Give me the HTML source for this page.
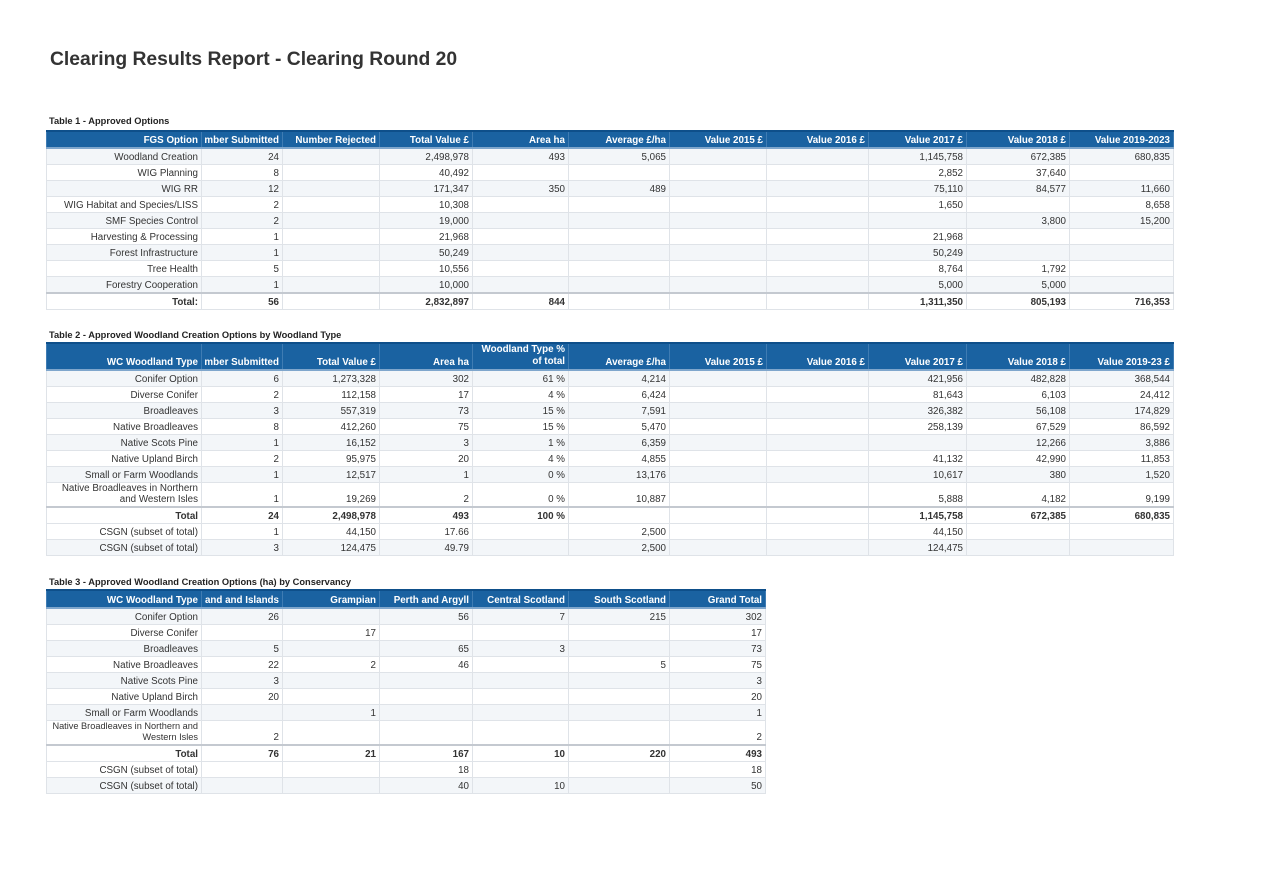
<!DOCTYPE html>
<html><head><meta charset="utf-8"><style>
body{margin:0;width:1262px;height:880px;background:#fff;font-family:"Liberation Sans",Arial,sans-serif;position:relative;overflow:hidden}
h1{position:absolute;left:50px;top:49px;margin:0;font-size:19.3px;font-weight:bold;color:#333}
.cap{position:absolute;left:49px;font-size:9.3px;font-weight:bold;color:#222}
table{position:absolute;left:46px;border-collapse:collapse;table-layout:fixed;font-size:9.8px;color:#333}
td,th{border:1px solid #dfe3e8;padding:0 3px;text-align:right;white-space:nowrap;overflow:hidden;height:14px;line-height:11px;vertical-align:bottom;padding-bottom:1px}
th{background:#1a62a1;color:#fff;font-weight:bold;border-color:#3f7cb3;border-top:2px solid #0e4f8a;border-bottom:2px solid #7fa6cc}
th div{display:flex;justify-content:flex-end;overflow:hidden;white-space:nowrap}
tr:nth-child(even) td{background:#f3f6f9}
tr.tot td{font-weight:bold;border-top:2px solid #c4c9d0;background:#fff!important}
td.w{white-space:nowrap}
</style></head><body>
<h1>Clearing Results Report - Clearing Round 20</h1>

<div class="cap" style="top:116px">Table 1 - Approved Options</div>
<table style="top:130px;width:1127px">
<colgroup><col style="width:155px"><col style="width:81px"><col style="width:97px"><col style="width:93px"><col style="width:96px"><col style="width:101px"><col style="width:97px"><col style="width:102px"><col style="width:98px"><col style="width:103px"><col style="width:104px"></colgroup>
<tr><th style="height:13px"><div>FGS Option</div></th><th><div>Number Submitted</div></th><th><div>Number Rejected</div></th><th><div>Total Value £</div></th><th><div>Area ha</div></th><th><div>Average £/ha</div></th><th><div>Value 2015 £</div></th><th><div>Value 2016 £</div></th><th><div>Value 2017 £</div></th><th><div>Value 2018 £</div></th><th><div>Value 2019-2023</div></th></tr>
<tr><td>Woodland Creation</td><td>24</td><td></td><td>2,498,978</td><td>493</td><td>5,065</td><td></td><td></td><td>1,145,758</td><td>672,385</td><td>680,835</td></tr>
<tr><td>WIG Planning</td><td>8</td><td></td><td>40,492</td><td></td><td></td><td></td><td></td><td>2,852</td><td>37,640</td><td></td></tr>
<tr><td>WIG RR</td><td>12</td><td></td><td>171,347</td><td>350</td><td>489</td><td></td><td></td><td>75,110</td><td>84,577</td><td>11,660</td></tr>
<tr><td>WIG Habitat and Species/LISS</td><td>2</td><td></td><td>10,308</td><td></td><td></td><td></td><td></td><td>1,650</td><td></td><td>8,658</td></tr>
<tr><td>SMF Species Control</td><td>2</td><td></td><td>19,000</td><td></td><td></td><td></td><td></td><td></td><td>3,800</td><td>15,200</td></tr>
<tr><td>Harvesting &amp; Processing</td><td>1</td><td></td><td>21,968</td><td></td><td></td><td></td><td></td><td>21,968</td><td></td><td></td></tr>
<tr><td>Forest Infrastructure</td><td>1</td><td></td><td>50,249</td><td></td><td></td><td></td><td></td><td>50,249</td><td></td><td></td></tr>
<tr><td>Tree Health</td><td>5</td><td></td><td>10,556</td><td></td><td></td><td></td><td></td><td>8,764</td><td>1,792</td><td></td></tr>
<tr><td>Forestry Cooperation</td><td>1</td><td></td><td>10,000</td><td></td><td></td><td></td><td></td><td>5,000</td><td>5,000</td><td></td></tr>
<tr class="tot"><td>Total:</td><td>56</td><td></td><td>2,832,897</td><td>844</td><td></td><td></td><td></td><td>1,311,350</td><td>805,193</td><td>716,353</td></tr>
</table>

<div class="cap" style="top:330px">Table 2 - Approved Woodland Creation Options by Woodland Type</div>
<table style="top:342px;width:1127px">
<colgroup><col style="width:155px"><col style="width:81px"><col style="width:97px"><col style="width:93px"><col style="width:96px"><col style="width:101px"><col style="width:97px"><col style="width:102px"><col style="width:98px"><col style="width:103px"><col style="width:104px"></colgroup>
<tr><th style="height:24px"><div>WC Woodland Type</div></th><th><div>Number Submitted</div></th><th><div>Total Value £</div></th><th><div>Area ha</div></th><th style="white-space:normal;line-height:12px">Woodland Type %<br>of total</th><th><div>Average £/ha</div></th><th><div>Value 2015 £</div></th><th><div>Value 2016 £</div></th><th><div>Value 2017 £</div></th><th><div>Value 2018 £</div></th><th><div>Value 2019-23 £</div></th></tr>
<tr><td>Conifer Option</td><td>6</td><td>1,273,328</td><td>302</td><td>61 %</td><td>4,214</td><td></td><td></td><td>421,956</td><td>482,828</td><td>368,544</td></tr>
<tr><td>Diverse Conifer</td><td>2</td><td>112,158</td><td>17</td><td>4 %</td><td>6,424</td><td></td><td></td><td>81,643</td><td>6,103</td><td>24,412</td></tr>
<tr><td>Broadleaves</td><td>3</td><td>557,319</td><td>73</td><td>15 %</td><td>7,591</td><td></td><td></td><td>326,382</td><td>56,108</td><td>174,829</td></tr>
<tr><td>Native Broadleaves</td><td>8</td><td>412,260</td><td>75</td><td>15 %</td><td>5,470</td><td></td><td></td><td>258,139</td><td>67,529</td><td>86,592</td></tr>
<tr><td>Native Scots Pine</td><td>1</td><td>16,152</td><td>3</td><td>1 %</td><td>6,359</td><td></td><td></td><td></td><td>12,266</td><td>3,886</td></tr>
<tr><td>Native Upland Birch</td><td>2</td><td>95,975</td><td>20</td><td>4 %</td><td>4,855</td><td></td><td></td><td>41,132</td><td>42,990</td><td>11,853</td></tr>
<tr><td>Small or Farm Woodlands</td><td>1</td><td>12,517</td><td>1</td><td>0 %</td><td>13,176</td><td></td><td></td><td>10,617</td><td>380</td><td>1,520</td></tr>
<tr><td class="w" style="height:22px">Native Broadleaves in Northern<br>and Western Isles</td><td>1</td><td>19,269</td><td>2</td><td>0 %</td><td>10,887</td><td></td><td></td><td>5,888</td><td>4,182</td><td>9,199</td></tr>
<tr class="tot"><td>Total</td><td>24</td><td>2,498,978</td><td>493</td><td>100 %</td><td></td><td></td><td></td><td>1,145,758</td><td>672,385</td><td>680,835</td></tr>
<tr><td>CSGN (subset of total)</td><td>1</td><td>44,150</td><td>17.66</td><td></td><td>2,500</td><td></td><td></td><td>44,150</td><td></td><td></td></tr>
<tr><td>CSGN (subset of total)</td><td>3</td><td>124,475</td><td>49.79</td><td></td><td>2,500</td><td></td><td></td><td>124,475</td><td></td><td></td></tr>
</table>

<div class="cap" style="top:577px">Table 3 - Approved Woodland Creation Options (ha) by Conservancy</div>
<table style="top:589px;width:719px">
<colgroup><col style="width:155px"><col style="width:81px"><col style="width:97px"><col style="width:93px"><col style="width:96px"><col style="width:101px"><col style="width:96px"></colgroup>
<tr><th style="height:15px"><div>WC Woodland Type</div></th><th><div>Highland and Islands</div></th><th><div>Grampian</div></th><th><div>Perth and Argyll</div></th><th><div>Central Scotland</div></th><th><div>South Scotland</div></th><th><div>Grand Total</div></th></tr>
<tr><td>Conifer Option</td><td>26</td><td></td><td>56</td><td>7</td><td>215</td><td>302</td></tr>
<tr><td>Diverse Conifer</td><td></td><td>17</td><td></td><td></td><td></td><td>17</td></tr>
<tr><td>Broadleaves</td><td>5</td><td></td><td>65</td><td>3</td><td></td><td>73</td></tr>
<tr><td>Native Broadleaves</td><td>22</td><td>2</td><td>46</td><td></td><td>5</td><td>75</td></tr>
<tr><td>Native Scots Pine</td><td>3</td><td></td><td></td><td></td><td></td><td>3</td></tr>
<tr><td>Native Upland Birch</td><td>20</td><td></td><td></td><td></td><td></td><td>20</td></tr>
<tr><td>Small or Farm Woodlands</td><td></td><td>1</td><td></td><td></td><td></td><td>1</td></tr>
<tr><td class="w" style="height:22px;font-size:9.2px">Native Broadleaves in Northern and<br>Western Isles</td><td>2</td><td></td><td></td><td></td><td></td><td>2</td></tr>
<tr class="tot"><td>Total</td><td>76</td><td>21</td><td>167</td><td>10</td><td>220</td><td>493</td></tr>
<tr><td>CSGN (subset of total)</td><td></td><td></td><td>18</td><td></td><td></td><td>18</td></tr>
<tr><td>CSGN (subset of total)</td><td></td><td></td><td>40</td><td>10</td><td></td><td>50</td></tr>
</table>
</body></html>
